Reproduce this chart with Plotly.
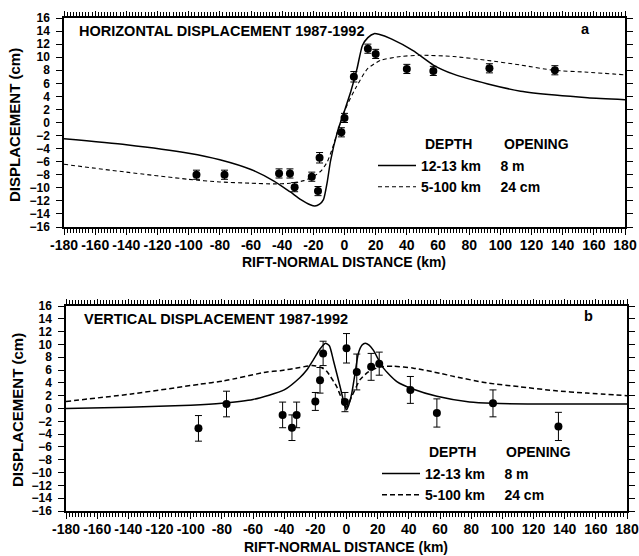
import plotly.graph_objects as go

W, H = 639, 556
def px(x): return x / W
def py(y): return 1 - y / H

# ---------------- data ----------------
# Horizontal displacement observations (km, cm, +-cm)
h_obs_x = [-95, -77, -42, -35, -32, -21, -17, -16, -2, 0, 6, 15, 20, 40, 57, 93, 135]
h_obs_y = [-8.0, -8.0, -7.8, -7.8, -9.9, -8.3, -10.5, -5.4, -1.5, 0.7, 7.0, 11.3, 10.5, 8.2, 7.9, 8.3, 8.0]
h_obs_err = [0.7, 0.7, 0.7, 0.7, 0.7, 0.7, 0.7, 0.8, 0.7, 0.7, 0.8, 0.7, 0.7, 0.7, 0.7, 0.7, 0.7]

# Horizontal model, 12-13 km depth, 8 m opening
h_solid_x = [-180, -140, -100, -80, -60, -45, -35, -28, -22, -19, -16, -13.5, -11, -9, -4.5, 0, 4, 8, 11.5, 15, 19, 22, 30, 44, 57, 70, 92, 113, 135, 156, 180]
h_solid_y = [-2.5, -3.4, -4.7, -5.7, -7.2, -9.0, -10.6, -11.8, -12.6, -12.8, -12.5, -11.8, -9.0, -5.9, -1.4, 1.8, 4.7, 8.2, 11.8, 13.0, 13.6, 13.5, 12.8, 11.0, 8.8, 7.4, 5.9, 4.8, 4.2, 3.8, 3.5]
# Horizontal model, 5-100 km depth, 24 cm opening
h_dash_x = [-180, -140, -100, -80, -60, -45, -35, -26, -20, -15, -11, -7.7, -3.8, 0.6, 7, 14.7, 23, 36, 49, 70, 92, 113, 134, 156, 180]
h_dash_y = [-6.4, -7.6, -8.7, -9.1, -9.3, -9.4, -9.3, -8.9, -8.3, -7.4, -6.0, -3.9, -0.9, 2.1, 5.2, 8.2, 9.5, 10.1, 10.3, 10.1, 9.5, 8.8, 8.0, 7.7, 7.3]

# Vertical displacement observations
v_obs_x = [-95, -77, -41, -35, -32, -20, -17, -15, -1, 0, 6.6, 15.8, 21, 41, 58, 94, 136]
v_obs_y = [-3.1, 0.7, -1.0, -3.0, -1.0, 1.1, 4.4, 8.6, 1.0, 9.4, 5.7, 6.5, 7.0, 2.9, -0.7, 0.8, -2.8]
v_obs_err = [2.0, 2.0, 2.0, 2.0, 2.0, 1.4, 2.0, 1.9, 1.5, 2.3, 2.8, 2.1, 1.8, 2.1, 2.2, 2.1, 2.2]

v_solid_x = [-180, -140, -100, -80, -60, -40, -30, -25.5, -21.3, -17, -13.5, -11, -8.4, -4.1, -1, 0, 1.5, 3.4, 5.5, 7.6, 10, 12, 14.5, 17.2, 23.7, 32.3, 43, 58, 79, 94, 133, 180]
v_solid_y = [0.0, 0.2, 0.5, 0.8, 1.4, 2.9, 4.8, 6.0, 7.6, 9.3, 10.2, 9.8, 7.5, 3.4, 0.3, -0.2, 0.6, 2.4, 5.5, 8.6, 9.9, 10.2, 9.9, 9.1, 6.3, 4.2, 3.0, 1.9, 1.0, 0.8, 0.7, 0.7]
v_dash_x = [-180, -137, -94, -79, -51, -42.6, -30, -22, -17, -12.7, -6.3, -3, 0, 3.4, 8.7, 14, 21.5, 30, 43, 60, 69, 90, 111, 133, 154, 180]
v_dash_y = [1.1, 2.3, 3.8, 4.3, 5.7, 5.9, 6.4, 6.7, 6.5, 5.8, 3.4, 1.5, 0.2, 1.9, 4.5, 5.7, 6.5, 6.6, 6.3, 5.5, 5.0, 4.0, 3.4, 2.8, 2.4, 2.0]

X_RANGE = [-180, 180]
Y_RANGE = [-16, 16]
X_STEP, X_MINOR_STEP, Y_STEP = 20, 2, 2
# fine ruler ticks every 2 km, labelled every 20 km
x_tick_vals = list(range(X_RANGE[0], X_RANGE[1] + 1, X_MINOR_STEP))
x_tick_text = [str(v) if v % X_STEP == 0 else "" for v in x_tick_vals]

FONT = "Liberation Sans"
NB = "&nbsp;"
solid_name = "12-13 km" + NB * 5 + "8 m"
dash_name = "5-100 km" + NB * 5 + "24 cm"

fig = go.Figure()

def add_panel(xa, ya, leg, sx, sy, dx, dy, ox, oy, oe, dash_w, dash_pat):
    fig.add_trace(go.Scatter(x=sx, y=sy, mode="lines", line=dict(color="black", width=1.5, shape="spline", smoothing=0.6),
                             name=solid_name, xaxis=xa, yaxis=ya, legend=leg))
    fig.add_trace(go.Scatter(x=dx, y=dy, mode="lines", line=dict(color="black", width=dash_w, dash=dash_pat, shape="spline", smoothing=0.6),
                             name=dash_name, xaxis=xa, yaxis=ya, legend=leg))
    fig.add_trace(go.Scatter(x=ox, y=oy, mode="markers", marker=dict(color="black", size=8),
                             error_y=dict(type="data", array=oe, color="black", thickness=1, width=3.5),
                             showlegend=False, xaxis=xa, yaxis=ya))

add_panel("x", "y", "legend", h_solid_x, h_solid_y, h_dash_x, h_dash_y, h_obs_x, h_obs_y, h_obs_err, 1.1, "4px,3px")
add_panel("x2", "y2", "legend2", v_solid_x, v_solid_y, v_dash_x, v_dash_y, v_obs_x, v_obs_y, v_obs_err, 1.5, "5px,3px")

xax = dict(range=X_RANGE, tickmode="array", tickvals=x_tick_vals, ticktext=x_tick_text, tickangle=0,
           ticks="outside", ticklen=4, tickwidth=1,
           tickcolor="black", showline=True, linecolor="black", linewidth=1.5, mirror="allticks", showgrid=False, zeroline=False,
           tickfont=dict(family=FONT, size=14, color="black", weight="bold"), automargin=False)
# overlay axis carrying the longer 20-km ticks
xmajor = dict(range=X_RANGE, tickmode="linear", tick0=X_RANGE[0], dtick=X_STEP, ticks="outside", ticklen=6.5,
              tickwidth=1, tickcolor="black", showticklabels=False, showline=False,
              mirror="allticks", showgrid=False, zeroline=False, automargin=False)
yax = dict(range=Y_RANGE, tickmode="linear", tick0=Y_RANGE[0], dtick=Y_STEP, ticks="outside", ticklen=6, tickwidth=1,
           tickcolor="black", showline=True, linecolor="black", linewidth=1.5, mirror="allticks", showgrid=False, zeroline=False,
           ticklabelstandoff=4,
           tickfont=dict(family=FONT, size=12, color="black", weight="bold"), automargin=False)

top_x = [px(64), px(625)]
bot_x = [px(66), px(627)]

fig.update_layout(
    width=W, height=H, margin=dict(l=0, r=0, t=0, b=0),
    paper_bgcolor="white", plot_bgcolor="white",
    xaxis=dict(xax, domain=top_x, anchor="y"),
    yaxis=dict(yax, domain=[py(227), py(18)], anchor="x"),
    xaxis2=dict(xax, domain=bot_x, anchor="y2"),
    yaxis2=dict(yax, domain=[py(511), py(306)], anchor="x2"),
    xaxis3=dict(xmajor, domain=top_x, anchor="y", overlaying="x"),
    xaxis4=dict(xmajor, domain=bot_x, anchor="y2", overlaying="x2"),
    legend=dict(x=px(373), y=py(150), xanchor="left", yanchor="top", bgcolor="rgba(0,0,0,0)",
                font=dict(family=FONT, size=14, color="black", weight="bold"), itemwidth=38, tracegroupgap=0),
    legend2=dict(x=px(377), y=py(458), xanchor="left", yanchor="top", bgcolor="rgba(0,0,0,0)",
                 font=dict(family=FONT, size=14, color="black", weight="bold"), itemwidth=38, tracegroupgap=0),
    showlegend=True,
)

fig.add_trace(go.Scatter(x=[], y=[], xaxis="x3", yaxis="y", showlegend=False, hoverinfo="skip"))
fig.add_trace(go.Scatter(x=[], y=[], xaxis="x4", yaxis="y2", showlegend=False, hoverinfo="skip"))

def ann(text, x, y, size=14, xanchor="left", angle=0):
    fig.add_annotation(text=text, x=px(x), y=py(y), xref="paper", yref="paper", xanchor=xanchor, yanchor="middle",
                       showarrow=False, textangle=angle, font=dict(family=FONT, size=size, color="black", weight="bold"))

ann("HORIZONTAL DISPLACEMENT 1987-1992", 77, 31, size=14.5)
ann("a", 585, 29, size=14.5, xanchor="center")
ann("VERTICAL DISPLACEMENT 1987-1992", 82, 319, size=14.5)
ann("b", 588, 316, size=14.5, xanchor="center")
ann("DEPTH", 423, 144)
ann("OPENING", 502, 144)
ann("DEPTH", 427, 452)
ann("OPENING", 504, 452)
ann("RIFT-NORMAL DISTANCE (km)", 344, 262, size=14, xanchor="center")
ann("RIFT-NORMAL DISTANCE (km)", 346, 547, size=14, xanchor="center")
ann("DISPLACEMENT (cm)", 15, 125, size=15, xanchor="center", angle=-90)
ann("DISPLACEMENT (cm)", 17, 410, size=15, xanchor="center", angle=-90)

fig.write_html("out.html")
